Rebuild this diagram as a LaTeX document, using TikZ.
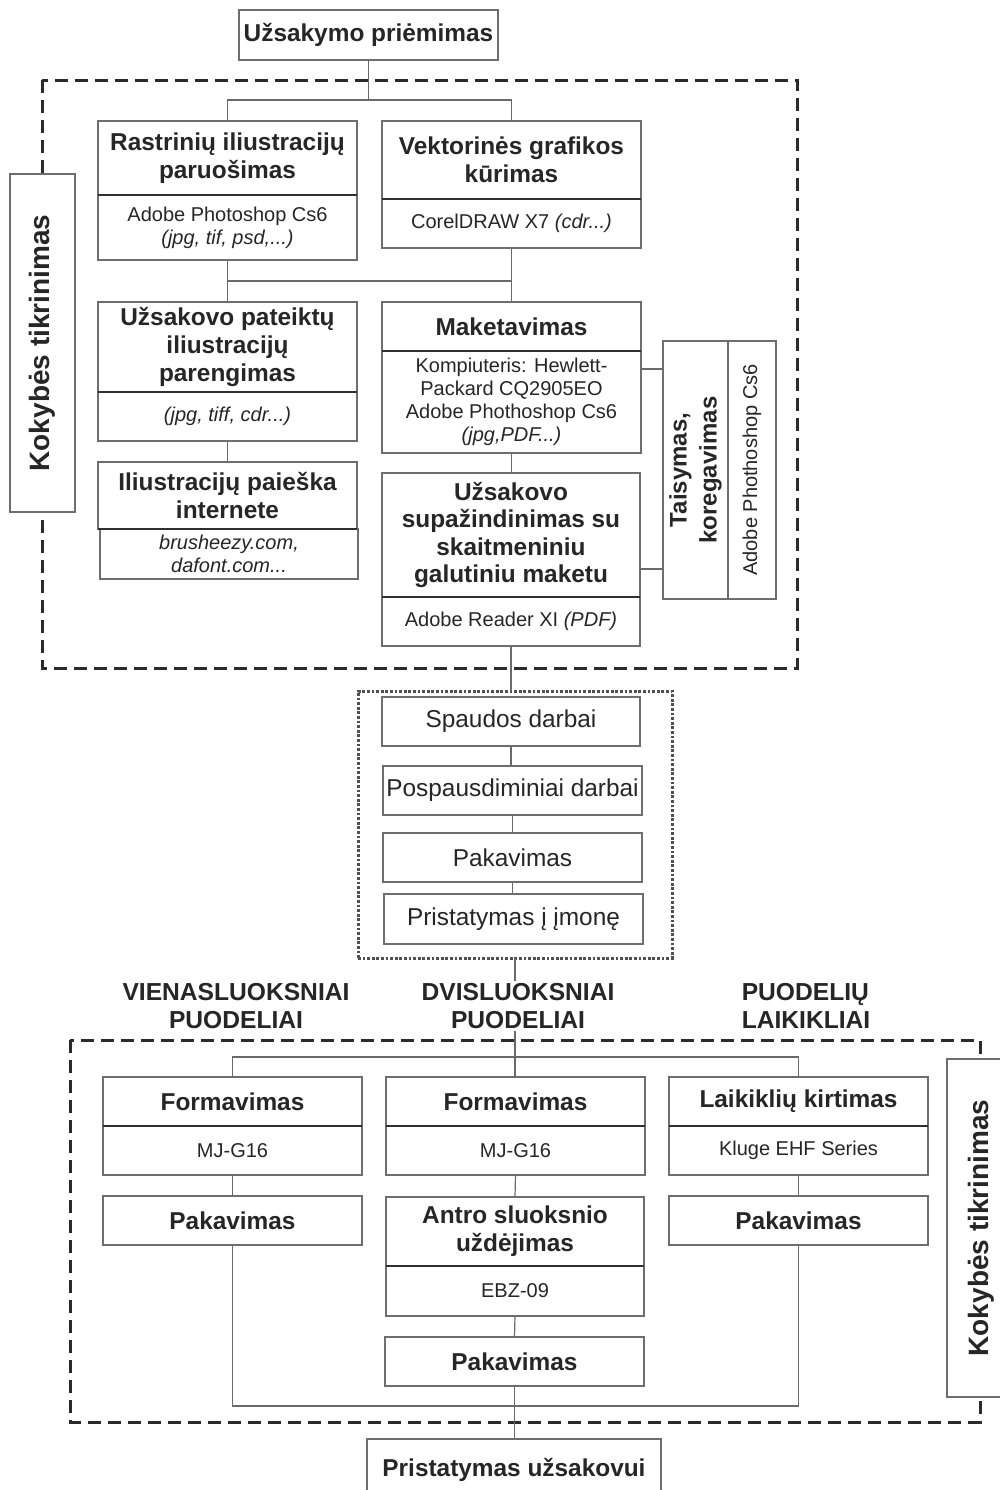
\documentclass[tikz,border=0pt]{standalone}
\usepackage{fontspec}
\setmainfont{Liberation Sans}
\definecolor{txt}{HTML}{262626}
\definecolor{bxc}{HTML}{6E6E6E}
\definecolor{divc}{HTML}{303030}
\definecolor{conc}{HTML}{6A6A6A}
\definecolor{dashc}{HTML}{2B2B2B}
\definecolor{dotc}{HTML}{505050}
\newcommand\myfb{\bfseries\fontsize{12.2pt}{14pt}\selectfont}
\newcommand\myfs{\bfseries\fontsize{12.2pt}{13.8pt}\selectfont}
\newcommand\myfr{\fontsize{10pt}{11.5pt}\selectfont}
\newcommand\myfm{\fontsize{12.2pt}{14pt}\selectfont}
\newcommand\myfk{\bfseries\fontsize{14pt}{16pt}\selectfont}
\newcommand\myfl{\bfseries\fontsize{12.3pt}{14pt}\selectfont}
\newcommand\myft{\bfseries\fontsize{12pt}{15pt}\selectfont}
\begin{document}
\begin{tikzpicture}[x=0.5pt,y=-0.5pt,
 every node/.style={inner sep=0pt, outer sep=0pt, text=txt},
 sz/.style 2 args={minimum width=#1*0.5pt, minimum height=#2*0.5pt},
 bx/.style={draw=bxc, line width=0.7pt, fill=white, align=center, anchor=north west},
 tt/.style={bx, font=\myfb},
 st/.style={bx, font=\myfr},
 mt/.style={bx, font=\myfm},
 div/.style={draw=divc, line width=0.9pt},
 con/.style={draw=conc, line width=0.6pt},
 grpdash/.style={draw=dashc, line width=1.5pt, dash pattern=on 6.5pt off 3.5pt},
 grpdot/.style={draw=dotc, line width=1.5pt, dash pattern=on 1.4pt off 0.9pt},
 lbl/.style={font=\myfl, align=center, fill=white, inner sep=1pt}
]
\useasboundingbox[fill=white] (0,0) rectangle (1000,1490);

% group frames
\draw[grpdash] (42,80) rectangle (797,668);
\draw[grpdash] (70,1040) rectangle (980,1422);
\node[grpdot, anchor=north west, sz={314}{267}] (grp) at (358,691) {};

% top section
\node[tt, sz={259}{50}] (top) at (239,10) {Užsakymo priėmimas};
\node[tt, sz={259}{74}] (rastT) at (98,121) {Rastrinių iliustracijų\\paruošimas};
\node[st, sz={259}{65}] (rastS) at (98,195) {Adobe Photoshop Cs6\\\textit{(jpg, tif, psd,...)}};
\node[tt, sz={259}{78}] (vekT) at (382,121) {Vektorinės grafikos\\kūrimas};
\node[st, sz={259}{49}] (vekS) at (382,199) {CorelDRAW X7 \textit{(cdr...)}};
\node[tt, sz={259}{90}] (patT) at (98,302) {Užsakovo pateiktų\\iliustracijų\\parengimas};
\node[st, sz={259}{49}] (patS) at (98,392) {\textit{(jpg, tiff, cdr...)}};
\node[tt, sz={259}{67}] (paiT) at (98,462) {Iliustracijų paieška\\internete};
\node[st, sz={258}{50}] (paiS) at (100,529) {\textit{brusheezy.com,}\\\textit{dafont.com...}};
\node[tt, sz={259}{49}] (makT) at (382,302) {Maketavimas};
\node[st, sz={259}{102}] (makS) at (382,351) {Kompiuteris: Hewlett-\\Packard CQ2905EO\\Adobe Phothoshop Cs6\\\textit{(jpg,PDF...)}};
\node[tt, font=\myfs, sz={258}{124}] (supT) at (382,473) {Užsakovo\\supažindinimas su\\skaitmeniniu\\galutiniu maketu};
\node[st, sz={258}{49}] (supS) at (382,597) {Adobe Reader XI \textit{(PDF)}};
\node[tt, font=\myft, rotate=90, anchor=center, sz={258}{65}] (taiL) at (695.5,470) {Taisymas,\\koregavimas};
\node[st, rotate=90, anchor=center, sz={258}{48}] (taiR) at (752,470) {Adobe Phothoshop Cs6};
\node[tt, font=\myfk, rotate=90, anchor=center, sz={338}{65}] (kok1) at (42.5,343) {Kokybės tikrinimas};

% middle section
\node[mt, sz={258}{49}] (spa) at (382,697) {Spaudos darbai};
\node[mt, sz={259}{49}] (pos) at (383,766) {Pospausdiminiai darbai};
\node[mt, sz={259}{49}] (pak) at (383,833) {Pakavimas};
\node[mt, sz={259}{50}] (pri) at (384,894) {Pristatymas į įmonę};

% bottom section
\node[tt, sz={259}{49}] (f1T) at (103,1077) {Formavimas};
\node[st, sz={259}{49}] (f1S) at (103,1126) {MJ-G16};
\node[tt, sz={259}{49}] (pk1) at (103,1196) {Pakavimas};
\node[tt, sz={259}{49}] (f2T) at (386,1077) {Formavimas};
\node[st, sz={259}{49}] (f2S) at (386,1126) {MJ-G16};
\node[tt, sz={258}{69}] (anT) at (386,1197) {Antro sluoksnio\\uždėjimas};
\node[st, sz={258}{50}] (anS) at (386,1266) {EBZ-09};
\node[tt, sz={259}{49}] (pk2) at (385,1337) {Pakavimas};
\node[tt, sz={259}{49}] (laT) at (669,1077) {Laikiklių kirtimas};
\node[st, sz={259}{49}] (laS) at (669,1126) {Kluge EHF Series};
\node[tt, sz={259}{49}] (pk3) at (669,1196) {Pakavimas};
\node[tt, font=\myfk, rotate=90, anchor=center, sz={338}{68}] (kok2) at (981,1228) {Kokybės tikrinimas};
\node[tt, sz={294}{62}] (fin) at (367,1439) {Pristatymas užsakovui};

% connectors
\coordinate (j1) at (top.south |- 0,100);
\draw[con] (top.south) -- (j1);
\draw[con] (rastT.north) |- (j1) -| (vekT.north);
\draw[con] (rastS.south) -- (patT.north);
\draw[con] (vekS.south) -- (makT.north);
\draw[con] (rastS.south |- 0,281) -- (vekS.south |- 0,281);
\draw[con] (patS.south) -- (paiT.north);
\draw[con] (makS.south) -- (makS.south |- supT.north);
\draw[con] ([yshift=-9pt]makS.north east) -- ([yshift=-9pt]makS.north east -| taiL.north);
\draw[con] ([yshift=14pt]supT.south east) -- ([yshift=14pt]supT.south east -| taiL.north);
\draw[con] (supS.south) -- (supS.south |- grp.north);
\draw[con] (spa.south) -- (spa.south |- pos.north);
\draw[con] (pos.south) -- (pos.south |- pak.north);
\draw[con] (pak.south) -- (pak.south |- pri.north);
\draw[con] (grp.south) -- (grp.south |- f2T.north);
\draw[con] (f1T.north) |- (f2T.north |- 0,1057) -| (laT.north);
\draw[con] (f1S.south) -- (pk1.north);
\draw[con] (f2S.south) -- (anT.north);
\draw[con] (anS.south) -- (pk2.north);
\draw[con] (laS.south) -- (pk3.north);
\draw[con] (pk1.south) |- (pk3.south |- 0,1406) -- (pk3.south);
\draw[con] (pk2.south) -- (pk2.south |- fin.north);

% dividers
\foreach \a in {rastT,vekT,patT,paiT,makT,supT,f1T,f2T,anT,laT}
  \draw[div] (\a.south west) -- (\a.south east);

% column labels
\node[lbl] (l1) at (236,1006) {VIENASLUOKSNIAI\\PUODELIAI};
\node[lbl] (l2) at (518,1006) {DVISLUOKSNIAI\\PUODELIAI};
\node[lbl, align=left] (l3) at (806,1006) {PUODELIŲ\\LAIKIKLIAI};
\end{tikzpicture}
\end{document}
